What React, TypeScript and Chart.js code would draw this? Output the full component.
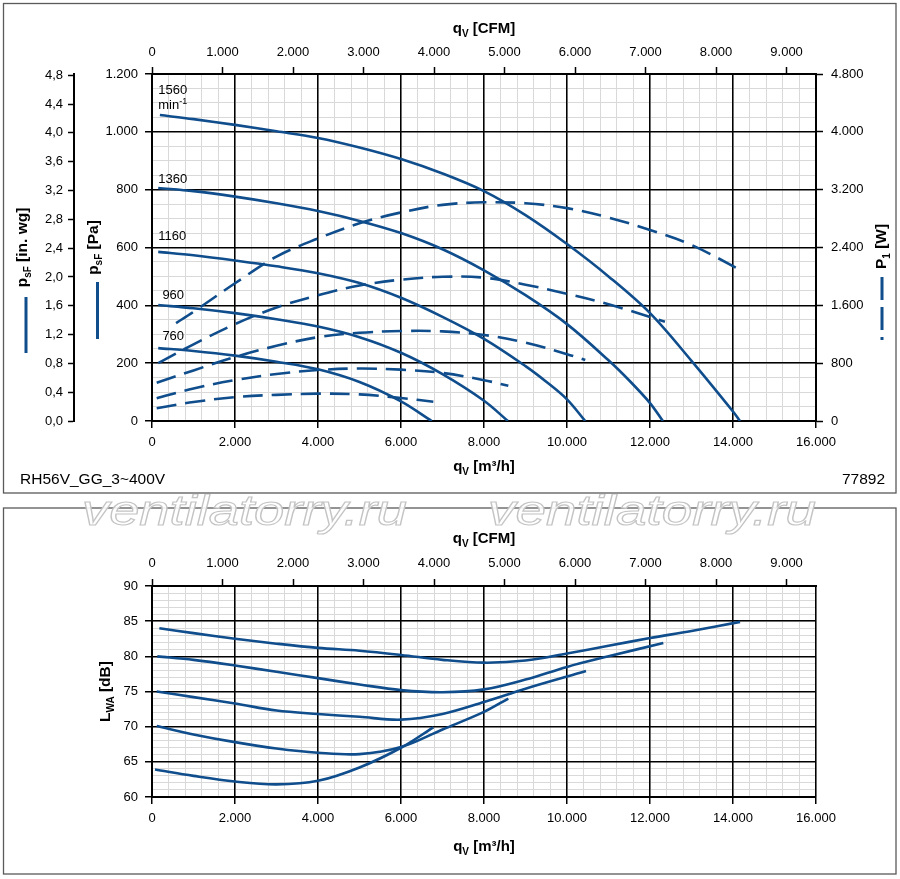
import React, { useEffect, useRef } from 'react';
import { Chart, registerables } from 'chart.js';

Chart.register(...registerables);

const FONT = '"Liberation Sans", Arial, Helvetica, sans-serif';
const BLUE = '#0f4d8c';
const MINOR = '#d9d9d9';

Chart.defaults.font.family = FONT;
Chart.defaults.font.size = 13;
Chart.defaults.color = '#000';

// ---------- data ----------
const speeds = ['1560', '1360', '1160', '960', '760'];

// static pressure p_sF [Pa] over q_V [m³/h]
const psf1560 = [[190, 1058], [1000, 1044], [2000, 1024], [3000, 1002], [4000, 979], [5000, 946], [6000, 906], [7000, 856], [8000, 795], [9000, 712], [10000, 612], [11000, 500], [12000, 373], [13000, 208], [14000, 33], [14170, 0]];
const psf1360 = [[150, 806], [1000, 795], [2000, 776], [3000, 753], [4000, 726], [5000, 692], [6000, 650], [7000, 594], [8000, 521], [9000, 435], [10000, 335], [11000, 210], [11500, 140], [12000, 62], [12310, 0]];
const psf1160 = [[150, 585], [1000, 573], [2000, 555], [3000, 535], [4000, 511], [5000, 477], [6000, 426], [7000, 360], [8000, 284], [9000, 190], [9500, 136], [10000, 75], [10440, 0]];
const psf960 = [[150, 401], [1000, 390], [2000, 373], [3000, 352], [4000, 327], [5000, 290], [6000, 236], [7000, 162], [8000, 70], [8575, 0]];
const psf760 = [[150, 252], [1000, 242], [2000, 226], [3000, 205], [4000, 179], [5000, 135], [6000, 68], [6740, 0]];

// input power P1 [W] over q_V [m³/h]
const p1_1560 = [[580, 1355], [1000, 1510], [2000, 1905], [3000, 2275], [4000, 2525], [5000, 2735], [6000, 2885], [7000, 2990], [8000, 3025], [9000, 3012], [10000, 2945], [11000, 2815], [12000, 2642], [13000, 2435], [14210, 2079]];
const p1_1360 = [[150, 800], [1000, 1060], [2000, 1340], [3000, 1570], [4000, 1740], [5000, 1875], [6000, 1955], [7000, 1995], [8000, 1983], [9000, 1885], [10000, 1760], [11000, 1615], [12360, 1374]];
const p1_1160 = [[113, 530], [1000, 700], [2000, 885], [3000, 1040], [4000, 1160], [5000, 1220], [6000, 1245], [7000, 1240], [8000, 1190], [9000, 1085], [10000, 925], [10440, 845]];
const p1_960 = [[113, 314], [1000, 450], [2000, 565], [3000, 650], [4000, 705], [5000, 726], [6000, 710], [7000, 665], [8000, 565], [8586, 488]];
const p1_760 = [[113, 176], [1000, 262], [2000, 330], [3000, 362], [4000, 378], [5000, 368], [6000, 318], [6779, 267]];

// sound power L_WA [dB] over q_V [m³/h]
const lwa1560 = [[177, 84], [1000, 83.3], [2000, 82.5], [3000, 81.8], [4000, 81.2], [5000, 80.8], [6000, 80.2], [7000, 79.5], [8000, 79.1], [9000, 79.4], [10000, 80.4], [11000, 81.5], [12000, 82.6], [13000, 83.6], [14170, 84.9]];
const lwa1360 = [[128, 80], [1000, 79.5], [2000, 78.7], [3000, 77.8], [4000, 76.9], [5000, 76], [6000, 75.2], [7000, 74.9], [8000, 75.3], [9000, 76.7], [10000, 78.5], [11000, 80], [12321, 81.9]];
const lwa1160 = [[113, 75], [1000, 74.2], [2000, 73.3], [3000, 72.3], [4000, 71.8], [5000, 71.4], [6000, 71], [7000, 71.8], [8000, 73.5], [9000, 75.4], [10458, 77.9]];
const lwa960 = [[113, 70.1], [1000, 68.9], [2000, 67.8], [3000, 66.9], [4000, 66.3], [5000, 66.1], [6000, 67.1], [7000, 69.6], [8000, 72.1], [8586, 74]];
const lwa760 = [[72, 63.9], [1000, 63], [2000, 62.2], [3000, 61.8], [4000, 62.3], [5000, 64.2], [6000, 67], [6779, 69.9]];

// tick labels
const qTicks = [0, 2000, 4000, 6000, 8000, 10000, 12000, 14000, 16000];
const cfmTicks = [0, 1000, 2000, 3000, 4000, 5000, 6000, 7000, 8000, 9000];
const paTicks = [0, 200, 400, 600, 800, 1000, 1200];
const inwgTicks = [0, 0.4, 0.8, 1.2, 1.6, 2.0, 2.4, 2.8, 3.2, 3.6, 4.0, 4.4, 4.8];
const wTicks = [0, 800, 1600, 2400, 3200, 4000, 4800];
const dbTicks = [60, 65, 70, 75, 80, 85, 90];

// speed label anchors (q_V, p_sF of text baseline)
const speedLabelQ = [150, 150, 150, 250, 250];
const speedLabelPa = [1130, 824, 626, 422, 280];

const Q_MAX = 16000;
const PA_MAX = 1200;
const W_MAX = 4800;
const M3H_PER_CFM = 1.699;
const PA_PER_INWG = 249.089;

// ---------- helpers ----------
const fmt = (v: number) => String(Math.round(v)).replace(/\B(?=(\d{3})+(?!\d))/g, '.');

type Part = { t: string; size: number; bold?: boolean; dy?: number };

function rich(ctx: CanvasRenderingContext2D, x: number, y: number, parts: Part[], align: 'left' | 'center' | 'right', angle = 0) {
  ctx.save();
  ctx.translate(x, y);
  if (angle) ctx.rotate(angle);
  ctx.textBaseline = 'alphabetic';
  ctx.textAlign = 'left';
  ctx.fillStyle = '#000';
  const fontOf = (p: Part) => `${p.bold ? 'bold ' : ''}${p.size}px ${FONT}`;
  let total = 0;
  const widths = parts.map((p) => {
    ctx.font = fontOf(p);
    const w = ctx.measureText(p.t).width;
    total += w;
    return w;
  });
  let cx = align === 'left' ? 0 : align === 'center' ? -total / 2 : -total;
  parts.forEach((p, i) => {
    ctx.font = fontOf(p);
    ctx.fillText(p.t, cx, p.dy || 0);
    cx += widths[i];
  });
  ctx.restore();
}

const qParts = (unit: string): Part[] => [
  { t: 'q', size: 15, bold: true },
  { t: 'V', size: 10, bold: true, dy: 3.5 },
  { t: ' ' + unit, size: 15, bold: true },
];
const psfParts = (unit: string): Part[] => [
  { t: 'p', size: 15.5, bold: true },
  { t: 'sF', size: 10, bold: true, dy: 4 },
  { t: ' ' + unit, size: 15.5, bold: true },
];

function vline(ctx: CanvasRenderingContext2D, x: number, y1: number, y2: number, dash: number[]) {
  ctx.save();
  ctx.strokeStyle = BLUE;
  ctx.lineWidth = 3;
  ctx.lineCap = 'butt';
  ctx.setLineDash(dash);
  ctx.beginPath();
  ctx.moveTo(x, y1);
  ctx.lineTo(x, y2);
  ctx.stroke();
  ctx.restore();
}

const curve = (data: number[][], yAxisID: string, dashed: boolean) => ({
  data: data.map(([x, y]) => ({ x, y })),
  xAxisID: 'x',
  yAxisID,
  borderColor: BLUE,
  borderWidth: 2.6,
  pointRadius: 0,
  fill: false,
  tension: 0.35,
  borderDash: dashed ? [20, 9] : [],
  borderCapStyle: 'butt',
});

const setTicks = (vals: number[]) => (s: any) => {
  s.ticks = vals.map((v) => ({ value: v }));
};

const majorGrid = { color: '#000', lineWidth: 1.5, tickLength: 7, tickColor: '#000', tickWidth: 1.5, z: -1 };
const tickOnly = { drawOnChartArea: false, tickLength: 7, tickColor: '#000', tickWidth: 1.5 };
const border = { display: true, color: '#000', width: 2 };
const minorAxis = (pos: string, min: number, max: number, step: number) => ({
  type: 'linear',
  position: pos,
  weight: 0,
  min,
  max,
  bounds: 'data',
  ticks: { display: false, stepSize: step },
  grid: { color: MINOR, lineWidth: 1, drawTicks: false, z: -2 },
  border: { display: false },
  afterFit: (s: any) => {
    if (pos === 'left' || pos === 'right') s.width = 0;
    else s.height = 0;
  },
});

const xAxes = (bottomH: number, topH: number, topPad: number, botPad: number) => ({
  x: {
    type: 'linear', position: 'bottom', weight: 1, min: 0, max: Q_MAX, bounds: 'data',
    afterBuildTicks: setTicks(qTicks),
    ticks: { autoSkip: false, maxRotation: 0, minRotation: 0, padding: botPad, callback: (v: any) => fmt(v) },
    grid: majorGrid, border,
    afterFit: (s: any) => { s.height = bottomH; },
  },
  xMinor: minorAxis('bottom', 0, Q_MAX, 400),
  xCfm: {
    type: 'linear', position: 'top', min: 0, max: Q_MAX / M3H_PER_CFM, bounds: 'data',
    afterBuildTicks: setTicks(cfmTicks),
    ticks: { autoSkip: false, maxRotation: 0, minRotation: 0, padding: topPad, callback: (v: any) => fmt(v) },
    grid: tickOnly, border,
    afterFit: (s: any) => { s.height = topH; },
  },
});

// ---------- top chart ----------
const topDecor = {
  id: 'topDecor',
  afterDraw(chart: any) {
    const { ctx, chartArea: a, scales } = chart;
    const cx = (a.left + a.right) / 2;
    ctx.save();
    ctx.strokeStyle = '#5a5a5a';
    ctx.lineWidth = 1.3;
    ctx.strokeRect(3.5, 3.5, 892.5, 489.5);
    ctx.restore();
    rich(ctx, cx, 33, qParts('[CFM]'), 'center');
    rich(ctx, cx, 471, qParts('[m³/h]'), 'center');
    rich(ctx, 20, 484, [{ t: 'RH56V_GG_3~400V', size: 15.5 }], 'left');
    rich(ctx, 885, 484, [{ t: '77892', size: 15.5 }], 'right');
    rich(ctx, 27, 247.5, psfParts('[in. wg]'), 'center', -Math.PI / 2);
    rich(ctx, 97.5, 247.5, psfParts('[Pa]'), 'center', -Math.PI / 2);
    rich(ctx, 886, 246.5, [
      { t: 'P', size: 15.5, bold: true },
      { t: '1', size: 10, bold: true, dy: 4 },
      { t: ' [W]', size: 15.5, bold: true },
    ], 'center', -Math.PI / 2);
    vline(ctx, 26, 297, 353, []);
    vline(ctx, 97.5, 282, 339, []);
    vline(ctx, 882, 277, 340, [23, 7]);
    speeds.forEach((s, i) => {
      const x = scales.x.getPixelForValue(speedLabelQ[i]);
      const y = scales.y.getPixelForValue(speedLabelPa[i]);
      rich(ctx, x, y, [{ t: s, size: 13 }], 'left');
      if (i === 0) {
        rich(ctx, x, y + 15, [{ t: 'min', size: 13 }, { t: '-1', size: 9, dy: -5 }], 'left');
      }
    });
  },
};

function topConfig(): any {
  return {
    type: 'line',
    data: {
      datasets: [
        curve(psf1560, 'y', false), curve(psf1360, 'y', false), curve(psf1160, 'y', false), curve(psf960, 'y', false), curve(psf760, 'y', false),
        curve(p1_1560, 'yW', true), curve(p1_1360, 'yW', true), curve(p1_1160, 'yW', true), curve(p1_960, 'yW', true), curve(p1_760, 'yW', true),
      ],
    },
    options: {
      animation: false,
      responsive: true,
      maintainAspectRatio: false,
      events: [],
      layout: { padding: 0 },
      plugins: { legend: { display: false }, tooltip: { enabled: false } },
      scales: {
        ...xAxes(73, 74, 7, 7),
        y: {
          type: 'linear', position: 'left', weight: 1, min: 0, max: PA_MAX, bounds: 'data',
          afterBuildTicks: setTicks(paTicks),
          ticks: { autoSkip: false, padding: 7, callback: (v: any) => fmt(v) },
          grid: majorGrid, border,
          afterFit: (s: any) => { s.width = 78; },
        },
        yMinor: minorAxis('left', 0, PA_MAX, 50),
        yInwg: {
          type: 'linear', position: 'left', weight: 2, min: 0, max: PA_MAX / PA_PER_INWG, bounds: 'data',
          afterBuildTicks: setTicks(inwgTicks),
          ticks: { autoSkip: false, padding: 5, callback: (v: any) => Number(v).toFixed(1).replace('.', ',') },
          grid: { ...tickOnly, tickLength: 6 }, border,
          afterFit: (s: any) => { s.width = 74; },
        },
        yW: {
          type: 'linear', position: 'right', min: 0, max: W_MAX, bounds: 'data',
          afterBuildTicks: setTicks(wTicks),
          ticks: { autoSkip: false, padding: 8, callback: (v: any) => fmt(v) },
          grid: tickOnly, border,
          afterFit: (s: any) => { s.width = 84; },
        },
      },
    },
    plugins: [topDecor],
  };
}

// ---------- bottom chart ----------
const bottomDecor = {
  id: 'bottomDecor',
  afterDraw(chart: any) {
    const { ctx, chartArea: a } = chart;
    const cx = (a.left + a.right) / 2;
    ctx.save();
    ctx.strokeStyle = '#5a5a5a';
    ctx.lineWidth = 1.3;
    ctx.strokeRect(3.5, 14, 892.5, 366);
    ctx.restore();
    rich(ctx, cx, 49.3, qParts('[CFM]'), 'center');
    rich(ctx, cx, 357, qParts('[m³/h]'), 'center');
    rich(ctx, 109.5, 197.5, [
      { t: 'L', size: 15.5, bold: true },
      { t: 'WA', size: 10, bold: true, dy: 4 },
      { t: ' [dB]', size: 15.5, bold: true },
    ], 'center', -Math.PI / 2);
    // watermark
    const wm = 'ventilatorry.ru';
    [[82, 325], [488, 328]].forEach(([left, width]) => {
      ctx.save();
      ctx.font = `italic 42px ${FONT}`;
      const w = ctx.measureText(wm).width;
      ctx.translate(left, 31);
      ctx.scale(width / w, 1);
      ctx.fillStyle = 'rgba(255,255,255,0.9)';
      ctx.fillText(wm, 0, 0);
      ctx.strokeStyle = '#c4c4c4';
      ctx.lineWidth = 1.1;
      ctx.strokeText(wm, 0, 0);
      ctx.restore();
    });
  },
};

function bottomConfig(): any {
  return {
    type: 'line',
    data: {
      datasets: [
        curve(lwa1560, 'y', false), curve(lwa1360, 'y', false), curve(lwa1160, 'y', false), curve(lwa960, 'y', false), curve(lwa760, 'y', false),
      ],
    },
    options: {
      animation: false,
      responsive: true,
      maintainAspectRatio: false,
      events: [],
      layout: { padding: { left: 0, top: 0, bottom: 0, right: 84 } },
      plugins: { legend: { display: false }, tooltip: { enabled: false } },
      scales: {
        ...xAxes(82, 92, 8, 7),
        y: {
          type: 'linear', position: 'left', weight: 1, min: 60, max: 90, bounds: 'data',
          afterBuildTicks: setTicks(dbTicks),
          ticks: { autoSkip: false, padding: 7, callback: (v: any) => String(v) },
          grid: majorGrid, border,
          afterFit: (s: any) => { s.width = 152; },
        },
        yMinor: minorAxis('left', 60, 90, 1),
      },
    },
    plugins: [bottomDecor],
  };
}

function ChartBox({ config, top, height }: { config: () => any; top: number; height: number }) {
  const ref = useRef<HTMLCanvasElement>(null);
  useEffect(() => {
    const chart = new Chart(ref.current as HTMLCanvasElement, config());
    return () => chart.destroy();
  }, []);
  return (
    <div style={{ position: 'absolute', left: 0, top, width: 900, height }}>
      <canvas ref={ref} />
    </div>
  );
}

export default function App() {
  return (
    <div style={{ position: 'absolute', left: 0, top: 0, width: 900, height: 879, background: '#fff' }}>
      <ChartBox config={topConfig} top={0} height={494} />
      <ChartBox config={bottomConfig} top={494} height={385} />
    </div>
  );
}
